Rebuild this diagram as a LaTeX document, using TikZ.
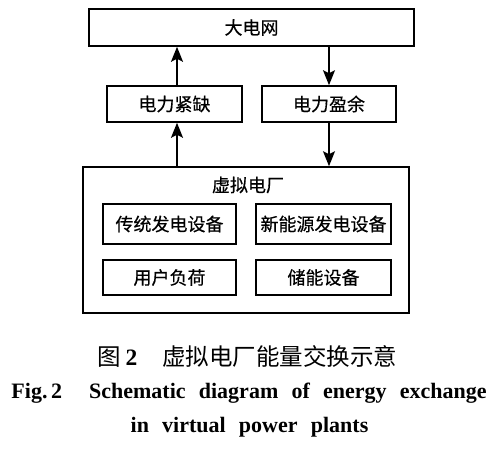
\documentclass[tikz,border=0pt]{standalone}
\usepackage{fontspec}
\setmainfont{Liberation Serif}
\newfontfamily\cjk{Noto Sans CJK SC}
\newfontfamily\cjkbox[FakeBold=0.5]{Noto Sans CJK SC}
\usetikzlibrary{arrows.meta}
\newcommand*{\capfont}{\fontsize{22}{26}\selectfont\bfseries\spaceskip=0.6em\relax}

\begin{document}
\begin{tikzpicture}[x=1pt, y=-1pt,
  box/.style={draw, line width=1.6pt, inner sep=0pt, font=\cjkbox\fontsize{18}{21}\selectfont},
  flow/.style={line width=1.6pt, -{Stealth[length=15pt, width=12pt, inset=3pt]}}]

\useasboundingbox (0,0) rectangle (503,448);

\def\colL{169.5}
\def\colR{323.5}

% grid and exchange boxes
\node[box, minimum width=325pt, minimum height=37pt] (grid) at (251.5, 27.5) {大电网};
\node[box, minimum width=135pt, minimum height=36pt] (short) at (174.5, 104) {电力紧缺};
\node[box, minimum width=134pt, minimum height=36pt] (surplus) at (329, 104) {电力盈余};

% virtual power plant
\node[box, minimum width=326pt, minimum height=146pt] (vpp) at (246, 240) {};
\node[font=\cjkbox\fontsize{18}{21}\selectfont] (vpplabel) at (248, 185) {虚拟电厂};
\node[box, minimum width=133pt, minimum height=40pt] (conv) at (\colL, 224) {传统发电设备};
\node[box, minimum width=135pt, minimum height=40pt] (renew) at (\colR, 224) {新能源发电设备};
\node[box, minimum width=133pt, minimum height=35pt] (load) at (\colL, 277.5) {用户负荷};
\node[box, minimum width=135pt, minimum height=35pt] (store) at (\colR, 277.5) {储能设备};

\coordinate (up) at ([xshift=2.5pt]short.south);
\draw[flow] (vpp.north -| up) -- (up);
\draw[flow] (short.north -| up) -- (grid.south -| up);
\draw[flow] (grid.south -| surplus.north) -- (surplus.north);
\draw[flow] (surplus.south) -- (surplus.south |- vpp.north);

% caption
\node[font=\cjk\fontsize{23.5}{27}\selectfont, anchor=west, inner sep=0pt] (capcn) at (97, 356) {图\hspace{5pt}{\rmfamily\bfseries 2}\hspace{25pt}虚拟电厂能量交换示意};
\node[font=\capfont] (capen) at (249, 393) {Fig.\,2\hspace{27pt}Schematic diagram of energy exchange};
\node[font=\capfont] (capen2) at (249.5, 427) {in virtual power plants};
\end{tikzpicture}
\end{document}
